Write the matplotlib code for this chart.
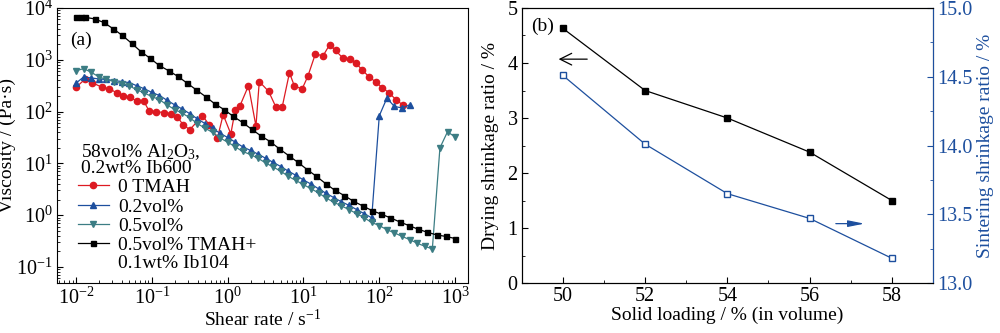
import numpy as np
import matplotlib
matplotlib.use("Agg")
import matplotlib.pyplot as plt
from matplotlib.ticker import LogLocator, MultipleLocator, NullFormatter

plt.rcParams['font.family'] = ['Liberation Serif', 'DejaVu Serif']
plt.rcParams['mathtext.fontset'] = 'custom'
plt.rcParams['mathtext.rm'] = 'Liberation Serif'
plt.rcParams['mathtext.it'] = 'Liberation Serif:italic'
plt.rcParams['font.size'] = 14

# ---- (a) flow curves: shear rate (1/s) and log10 viscosity (Pa s) ----
rate_blk = [0.0100, 0.0115, 0.0132, 0.0175, 0.0232, 0.0308, 0.0407, 0.0539, 0.0714, 0.0946,
            0.125, 0.166, 0.220, 0.291, 0.385, 0.510, 0.675, 0.894,
            1.18, 1.57, 2.07, 2.75, 3.64, 4.82, 6.38, 8.45,
            11.2, 14.8, 19.6, 26.0, 34.4, 45.6, 60.3, 79.9,
            106, 140, 186, 246, 325, 431, 570, 755, 1000]
logeta_blk = [3.83, 3.83, 3.82, 3.79, 3.72, 3.60, 3.47, 3.32, 3.16, 3.03,
              2.89, 2.79, 2.68, 2.55, 2.42, 2.29, 2.15, 2.04, 1.91, 1.79,
              1.66, 1.53, 1.42, 1.28, 1.15, 1.02, 0.88, 0.75, 0.61, 0.48,
              0.38, 0.27, 0.18, 0.09, 0.02, -0.05, -0.13, -0.20, -0.27, -0.33,
              -0.38, -0.41, -0.45]

rate_grid = [0.0100, 0.0126, 0.0158, 0.0200, 0.0251, 0.0316, 0.0398, 0.0501, 0.0631, 0.0794,
             0.100, 0.126, 0.158, 0.200, 0.251, 0.316, 0.398, 0.501, 0.631, 0.794,
             1.00, 1.26, 1.58, 2.00, 2.51, 3.16, 3.98, 5.01, 6.31, 7.94,
             10.0, 12.6, 15.8, 20.0, 25.1, 31.6, 39.8, 50.1, 63.1, 79.4,
             100, 126, 158, 200, 251, 316, 398, 501, 631, 794, 1000]
logeta_05 = [2.79, 2.83, 2.76, 2.67, 2.62, 2.58, 2.54, 2.50, 2.42, 2.36,
             2.29, 2.23, 2.13, 2.04, 1.97, 1.88, 1.77, 1.68, 1.60, 1.49,
             1.41, 1.32, 1.23, 1.17, 1.10, 1.01, 0.93, 0.85, 0.75, 0.67,
             0.59, 0.51, 0.43, 0.33, 0.25, 0.18, 0.11, 0.03, -0.05, -0.14,
             -0.20, -0.28, -0.34, -0.41, -0.47, -0.54, -0.60, -0.65, 1.30, 1.61,
             1.51]
logeta_02 = [2.55, 2.67, 2.65, 2.63, 2.62, 2.60, 2.58, 2.56, 2.50, 2.44,
             2.37, 2.31, 2.22, 2.13, 2.05, 1.96, 1.86, 1.77, 1.68, 1.58,
             1.50, 1.41, 1.32, 1.25, 1.18, 1.10, 1.02, 0.94, 0.85, 0.77,
             0.68, 0.60, 0.51, 0.42, 0.34, 0.26, 0.19, 0.11, 0.03, -0.05,
             1.92, 2.26, 2.10, 2.07, 2.13]

rate_red = [0.0100, 0.0130, 0.0162, 0.0220, 0.0275, 0.0347, 0.0413, 0.0507, 0.0638, 0.0783,
            0.0912, 0.114, 0.144, 0.177, 0.216, 0.257, 0.316,
            0.464, 0.569, 0.733, 0.871, 1.10, 1.26, 1.45,
            1.88, 2.36, 2.61, 3.47, 4.35, 5.22, 6.53, 7.60, 9.61,
            11.4, 14.4, 18.0, 22.1, 26.5, 33.2, 40.6, 48.8,
            59.9, 73.3, 89.9, 110, 135, 166, 203]
logeta_0 = [2.47, 2.62, 2.56, 2.47, 2.44, 2.36, 2.31, 2.28, 2.20, 2.20,
            2.02, 2.00, 1.98, 1.96, 1.90, 1.75, 1.65,
            1.92, 1.75, 1.49, 1.94, 1.57, 2.04, 2.11,
            2.50, 1.72, 2.58, 2.39, 2.08, 2.08, 2.75, 2.49, 2.44,
            2.68, 3.12, 3.07, 3.29, 3.18, 3.03, 3.02, 2.94,
            2.80, 2.67, 2.57, 2.46, 2.36, 2.23, 2.13]

# ---- (b) shrinkage vs solid loading ----
loading = [50, 52, 54, 56, 58]
drying = [4.63, 3.50, 3.00, 2.38, 1.50]
sintering = [14.51, 14.01, 13.65, 13.47, 13.18]

RED = '#dd1a22'
BLUE = '#1d4f9e'
TEAL = '#3c7d84'
LAB = 14
TICK = 14.5

fig = plt.figure(figsize=(10, 3.33), dpi=100)
ax1 = fig.add_axes([0.057, 0.150, 0.411, 0.826])
ax2 = fig.add_axes([0.5217, 0.150, 0.4113, 0.826])

l0, = ax1.plot(rate_red, 10 ** np.array(logeta_0), '-o', color=RED, ms=4.5, lw=0.9)
l2, = ax1.plot(rate_grid[:len(logeta_02)], 10 ** np.array(logeta_02), '-^', color=BLUE,
               ms=5, lw=0.9)
l5, = ax1.plot(rate_grid, 10 ** np.array(logeta_05), '-v', color=TEAL, ms=5, lw=0.9)
lb, = ax1.plot(rate_blk, 10 ** np.array(logeta_blk), '-s', color='black', ms=3.6, lw=0.9)

ax1.set_xscale('log')
ax1.set_yscale('log')
ax1.set_xlim(0.0056, 1480)
ax1.set_ylim(0.049, 1e4)
ax1.xaxis.set_major_locator(LogLocator(base=10, numticks=10))
ax1.xaxis.set_minor_locator(LogLocator(base=10, subs=np.arange(2, 10), numticks=20))
ax1.xaxis.set_minor_formatter(NullFormatter())
ax1.yaxis.set_major_locator(LogLocator(base=10, numticks=10))
ax1.yaxis.set_minor_locator(LogLocator(base=10, subs=np.arange(2, 10), numticks=20))
ax1.yaxis.set_minor_formatter(NullFormatter())
ax1.tick_params(which='both', direction='in', top=False, right=False)
ax1.tick_params(which='major', length=4, labelsize=TICK, pad=3)
ax1.tick_params(which='minor', length=2)
ax1.set_xlabel('Shear rate / s$^{-1}$', fontsize=LAB, labelpad=0)
ax1.set_ylabel('Viscosity / (Pa·s)', fontsize=LAB, labelpad=0)

ax1.text(0.032, 0.884, '(a)', transform=ax1.transAxes, fontsize=LAB, va='center')
ax1.text(0.058, 0.458, '58vol% Al$_2$O$_3$,', transform=ax1.transAxes, fontsize=LAB,
         va='baseline')
ax1.text(0.058, 0.400, '0.2wt% Ib600', transform=ax1.transAxes, fontsize=LAB, va='baseline')
ax1.legend([l0, l2, l5, lb], ['0 TMAH', '0.2vol%', '0.5vol%', '0.5vol% TMAH+'],
           loc='upper left', bbox_to_anchor=(0.052, 0.380), frameon=False,
           fontsize=LAB, handlelength=1.55, handletextpad=0.5, labelspacing=0.09,
           borderpad=0, borderaxespad=0)
ax1.text(0.148, 0.0545, '0.1wt% Ib104', transform=ax1.transAxes, fontsize=LAB,
         va='baseline')

# ---- right panel ----
ax2.plot(loading, drying, '-s', color='black', ms=5, lw=0.9)
ax2.set_xlim(49, 59)
ax2.set_ylim(0, 5)
ax2.xaxis.set_major_locator(MultipleLocator(2))
ax2.xaxis.set_minor_locator(MultipleLocator(1))
ax2.yaxis.set_major_locator(MultipleLocator(1))
ax2.yaxis.set_minor_locator(MultipleLocator(0.5))
ax2.tick_params(which='both', direction='in', top=False, right=False)
ax2.tick_params(which='major', length=4, labelsize=TICK, pad=3)
ax2.tick_params(which='minor', length=2)
ax2.set_xlabel('Solid loading / % (in volume)', fontsize=LAB, labelpad=0)
ax2.set_ylabel('Drying shrinkage ratio / %', fontsize=LAB, labelpad=6)
ax2.text(0.024, 0.933, '(b)', transform=ax2.transAxes, fontsize=LAB, va='center')

ax3 = ax2.twinx()
ax3.plot(loading, sintering, '-s', color=BLUE, mfc='white', mec=BLUE, ms=5, lw=0.9)
ax3.set_ylim(13, 15)
ax3.yaxis.set_major_locator(MultipleLocator(0.5))
ax3.yaxis.set_minor_locator(MultipleLocator(0.25))
ax3.yaxis.set_major_formatter(plt.FormatStrFormatter('%.1f'))
ax3.tick_params(which='both', direction='in', colors=BLUE, labelsize=TICK)
ax3.tick_params(which='major', length=4, pad=3)
ax3.tick_params(which='minor', length=2)
ax3.spines['right'].set_color(BLUE)
ax3.set_ylabel('Sintering shrinkage ratio / %', color=BLUE, fontsize=LAB, labelpad=3)

ax2.annotate('', xy=(49.83, 4.07), xytext=(50.66, 4.07),
             arrowprops=dict(arrowstyle='->,head_length=0.6,head_width=0.3',
                             color='black', lw=0.9))
ax2.annotate('', xy=(57.4, 1.08), xytext=(56.57, 1.08),
             arrowprops=dict(arrowstyle='-|>,head_length=0.7,head_width=0.14',
                             color=BLUE, lw=0.9))

fig.savefig('out.png', dpi=100)
